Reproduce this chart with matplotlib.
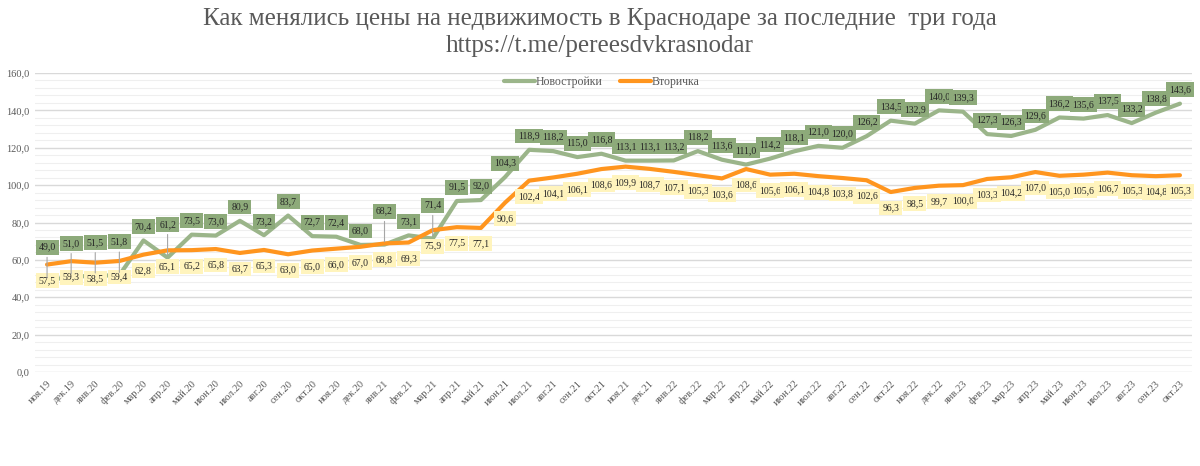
import matplotlib
matplotlib.use('Agg')
import matplotlib.pyplot as plt
import numpy as np

months = ['ноя.19', 'дек.19', 'янв.20', 'фев.20', 'мар.20', 'апр.20', 'май.20', 'июн.20',
          'июл.20', 'авг.20', 'сен.20', 'окт.20', 'ноя.20', 'дек.20', 'янв.21', 'фев.21',
          'мар.21', 'апр.21', 'май.21', 'июн.21', 'июл.21', 'авг.21', 'сен.21', 'окт.21',
          'ноя.21', 'дек.21', 'янв.22', 'фев.22', 'мар.22', 'апр.22', 'май.22', 'июн.22',
          'июл.22', 'авг.22', 'сен.22', 'окт.22', 'ноя.22', 'дек.22', 'янв.23', 'фев.23',
          'мар.23', 'апр.23', 'май.23', 'июн.23', 'июл.23', 'авг.23', 'сен.23', 'окт.23']

novostroyki = [49.0, 51.0, 51.5, 51.8, 70.4, 61.2, 73.5, 73.0, 80.9, 73.2, 83.7, 72.7,
               72.4, 68.0, 68.2, 73.1, 71.4, 91.5, 92.0, 104.3, 118.9, 118.2, 115.0, 116.8,
               113.1, 113.1, 113.2, 118.2, 113.6, 111.0, 114.2, 118.1, 121.0, 120.0, 126.2, 134.5,
               132.9, 140.0, 139.3, 127.3, 126.3, 129.6, 136.2, 135.6, 137.5, 133.2, 138.8, 143.6]

vtorichka = [57.5, 59.3, 58.5, 59.4, 62.8, 65.1, 65.2, 65.8, 63.7, 65.3, 63.0, 65.0,
             66.0, 67.0, 68.8, 69.3, 75.9, 77.5, 77.1, 90.6, 102.4, 104.1, 106.1, 108.6,
             109.9, 108.7, 107.1, 105.3, 103.6, 108.6, 105.6, 106.1, 104.8, 103.8, 102.6, 96.3,
             98.5, 99.7, 100.0, 103.3, 104.2, 107.0, 105.0, 105.6, 106.7, 105.3, 104.8, 105.3]

GREEN = '#9bb58a'
ORANGE = '#ff951e'
GREEN_BOX = '#8daa7a'
YELLOW_BOX = '#fff4bd'
TEXT = '#595959'
SERIF = ['Liberation Serif', 'DejaVu Serif']


def fmt(v):
    return f'{v:.1f}'.replace('.', ',')


fig = plt.figure(figsize=(12, 4.66), dpi=100, facecolor='white')
ax = fig.add_axes([35 / 1200, 94 / 466, 1157 / 1200, 299 / 466])

x = np.arange(len(months))

# сетка: основные линии через 20, дополнительные через 4
for yv in np.arange(0, 161, 4):
    major = yv % 20 == 0
    ax.axhline(yv, color='#d9d9d9' if major else '#efefef',
               linewidth=1.0 if major else 0.8, zorder=0)

ax.plot(x, novostroyki, color=GREEN, linewidth=3, label='Новостройки', zorder=2,
        solid_capstyle='round')
ax.plot(x, vtorichka, color=ORANGE, linewidth=3, label='Вторичка', zorder=2,
        solid_capstyle='round')

ax.set_xlim(-0.5, len(months) - 0.5)
ax.set_ylim(0, 160)
ax.set_yticks(np.arange(0, 161, 20))
ax.set_yticklabels([fmt(v) for v in np.arange(0, 161, 20)])
ax.set_xticks(x)
ax.set_xticklabels(months, rotation=45, ha='right', rotation_mode='anchor')
ax.tick_params(length=0, colors=TEXT, labelsize=7.5)
ax.tick_params(axis='y', pad=4)
ax.tick_params(axis='x', pad=5)
for lbl in ax.get_xticklabels() + ax.get_yticklabels():
    lbl.set_family(SERIF)
for s in ax.spines.values():
    s.set_visible(False)

# подписи данных
for i, (g, o) in enumerate(zip(novostroyki, vtorichka)):
    dy_g = 10 if g > o else 24
    ax.annotate(fmt(g), (i, g), xytext=(0, dy_g), textcoords='offset points',
                ha='center', va='center', fontsize=7, color='#262626', family=SERIF,
                zorder=5,
                bbox=dict(boxstyle='square,pad=0.3', fc=GREEN_BOX, ec='none'),
                arrowprops=dict(arrowstyle='-', color='#a6a6a6', lw=0.8) if g < o else None)
    ax.annotate(fmt(o), (i, o), xytext=(0, -11.5), textcoords='offset points',
                ha='center', va='center', fontsize=7, color='#262626', family=SERIF,
                zorder=4,
                bbox=dict(boxstyle='square,pad=0.3', fc=YELLOW_BOX, ec='none'))

leg = ax.legend(loc='upper center', bbox_to_anchor=(0.49, 1.025), ncol=2, frameon=False,
                prop={'family': SERIF, 'size': 8.5}, handlelength=2.6, columnspacing=1.5,
                handletextpad=0.1)
for t in leg.get_texts():
    t.set_color(TEXT)

fig.text(0.5, 0.96, 'Как менялись цены на недвижимость в Краснодаре за последние  три года',
         ha='center', va='center', fontsize=18, color=TEXT, family=SERIF)
fig.text(0.5, 0.902, 'https://t.me/pereesdvkrasnodar',
         ha='center', va='center', fontsize=18, color=TEXT, family=SERIF)

fig.savefig('out.png', dpi=100, facecolor='white')
